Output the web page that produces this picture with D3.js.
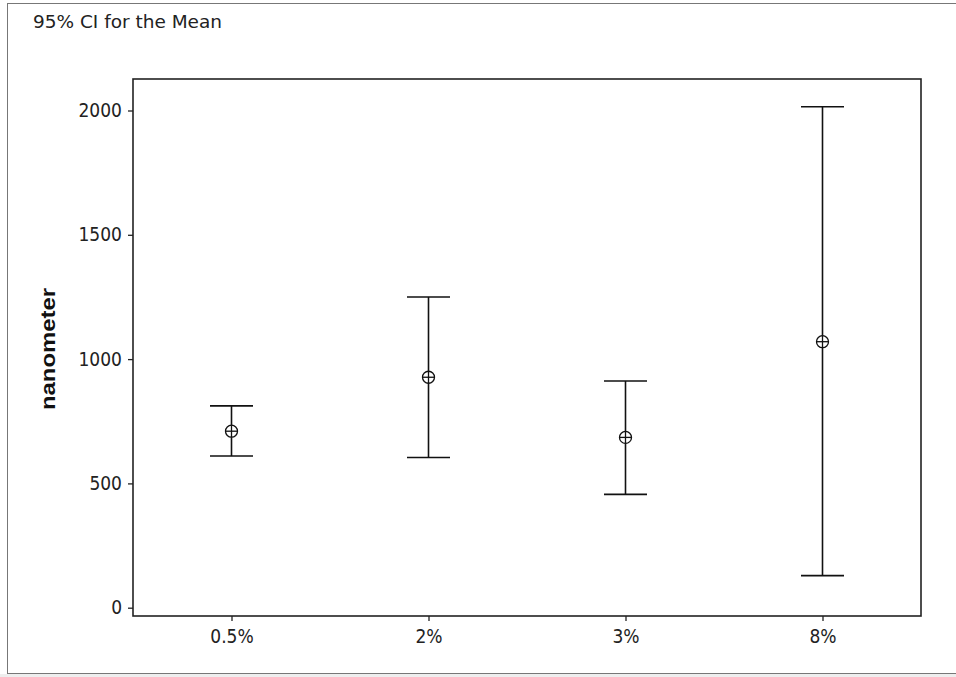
<!DOCTYPE html>
<html><head><meta charset="utf-8">
<script src="https://cdn.jsdelivr.net/npm/d3@7"></script>
<style>body{margin:0;background:#fff}svg{display:block}</style>
</head><body>
<svg id="c" width="956" height="677"></svg>
<script>
const categories = ["0.5%", "2%", "3%", "8%"];
const means = [710, 927, 685, 1070];
const lower = [610, 604, 456, 129];
const upper = [812, 1250, 912, 2015];
const yTicks = [0, 500, 1000, 1500, 2000];

const svg = d3.select("#c");
const W = 956, H = 677;
const m = {left: 133, right: 921, top: 79, bottom: 616};

// outer frame
svg.append("rect").attr("x", 7.5).attr("y", 3.5).attr("width", 960).attr("height", 670)
  .attr("fill", "none").attr("stroke", "#777").attr("stroke-width", 1);
svg.append("rect").attr("x", 0).attr("y", 674).attr("width", W).attr("height", 3).attr("fill", "#eee");

const x = d3.scalePoint().domain(categories).range([m.left, m.right]).padding(0.5);
const y = d3.scaleLinear().domain([0, 2000]).range([607.7, 110.5]);

const font = "'DejaVu Sans Condensed', 'DejaVu Sans', sans-serif";

svg.append("text").attr("x", 33).attr("y", 28).text("95% CI for the Mean")
  .attr("font-family", font).attr("font-size", 18).attr("fill", "#222")
  .attr("textLength", 189).attr("lengthAdjust", "spacingAndGlyphs");

// plot box
svg.append("rect").attr("x", m.left).attr("y", m.top).attr("width", m.right - m.left).attr("height", m.bottom - m.top)
  .attr("fill", "none").attr("stroke", "#222").attr("stroke-width", 1.6);

// y axis
const ya = svg.append("g").attr("transform", `translate(${m.left},0)`)
  .call(d3.axisLeft(y).tickValues(yTicks).tickSize(5).tickPadding(6).tickFormat(d3.format("d")));
ya.select(".domain").remove();
ya.selectAll("line").attr("stroke", "#222").attr("stroke-width", 1.3);
ya.selectAll("text").attr("font-family", font).attr("font-size", 19).attr("fill", "#222");

// x axis
const xa = svg.append("g").attr("transform", `translate(0,${m.bottom})`)
  .call(d3.axisBottom(x).tickSize(5).tickPadding(9));
xa.select(".domain").remove();
xa.selectAll("line").attr("stroke", "#222").attr("stroke-width", 1.3);
xa.selectAll("text").attr("font-family", font).attr("font-size", 19).attr("fill", "#222");

// y label
svg.append("text").attr("transform", "translate(55,349) rotate(-90)").attr("text-anchor", "middle")
  .text("nanometer").attr("font-family", "'Liberation Sans', Arial, sans-serif").attr("font-weight", "bold")
  .attr("font-size", 21).attr("fill", "#111")
  .attr("textLength", 122).attr("lengthAdjust", "spacingAndGlyphs");

// error bars
const data = categories.map((c, i) => ({c, mean: means[i], lo: lower[i], hi: upper[i]}));
const g = svg.append("g").attr("stroke", "#111").attr("stroke-width", 1.6).attr("fill", "none");
const cap = 21.5;
data.forEach(d => {
  const cx = x(d.c);
  g.append("line").attr("x1", cx).attr("x2", cx).attr("y1", y(d.lo)).attr("y2", y(d.hi));
  g.append("line").attr("x1", cx - cap).attr("x2", cx + cap).attr("y1", y(d.lo)).attr("y2", y(d.lo));
  g.append("line").attr("x1", cx - cap).attr("x2", cx + cap).attr("y1", y(d.hi)).attr("y2", y(d.hi));
  const cy = y(d.mean);
  g.append("circle").attr("cx", cx).attr("cy", cy).attr("r", 6).attr("fill", "#fff").attr("stroke-width", 1.3);
  g.append("line").attr("x1", cx - 6).attr("x2", cx + 6).attr("y1", cy).attr("y2", cy).attr("stroke-width", 1.3);
  g.append("line").attr("x1", cx).attr("x2", cx).attr("y1", cy - 6).attr("y2", cy + 6).attr("stroke-width", 1.3);
});
</script>
</body></html>
